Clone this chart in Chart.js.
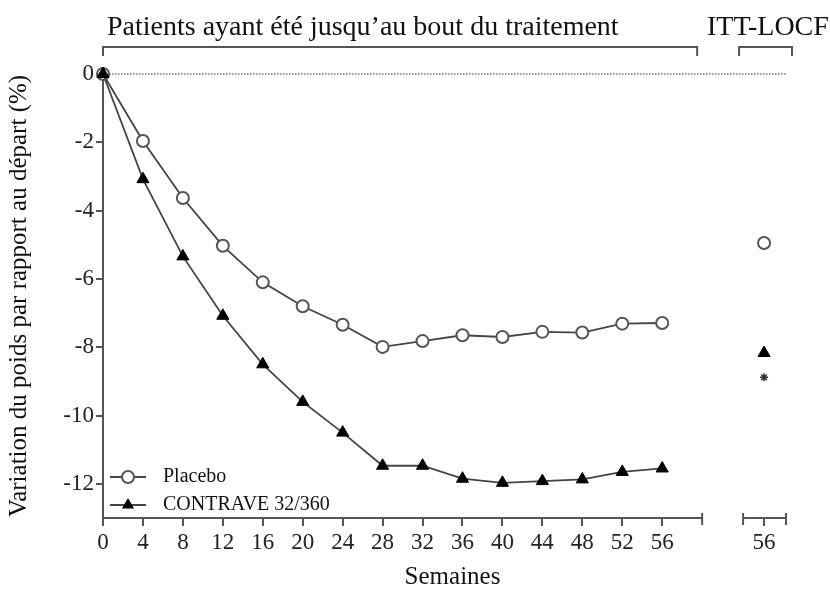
<!DOCTYPE html>
<html>
<head>
<meta charset="utf-8">
<script src="https://cdn.jsdelivr.net/npm/chart.js@4/dist/chart.umd.min.js"></script>
<style>
  body { margin: 0; background: #fff; }
  #wrap { width: 830px; height: 590px; position: relative; }
</style>
</head>
<body>
<div id="wrap"><canvas id="poidsChart"></canvas></div>
<script>
// semaines de suivi
var weeks = [0, 4, 8, 12, 16, 20, 24, 28, 32, 36, 40, 44, 48, 52, 56];
var placebo = [0, -1.96, -3.63, -5.03, -6.1, -6.8, -7.34, -7.99, -7.82, -7.65, -7.7, -7.55, -7.57, -7.31, -7.29];
var contrave = [0, -3.08, -5.34, -7.08, -8.5, -9.6, -10.5, -11.47, -11.47, -11.85, -11.97, -11.92, -11.87, -11.65, -11.55];

// ITT-LOCF, semaine 56 (placee a droite de la coupure)
var ittPos = 66.2;
var ittLabel = '56';
var placeboItt = [-4.95];
var contraveItt = [-8.17];
var starItt = [-8.88];

var yTicks = [0, -2, -4, -6, -8, -10, -12];

var serif = 'Liberation Serif';
var gris = '#555';

function pts(xs, ys) {
  return xs.map(function(x, i) { return { x: x, y: ys[i] }; });
}

// axes coupes, accolades, titres et legende
var decor = {
  id: 'decor',
  beforeDatasetsDraw: function(chart) {
    var ctx = chart.ctx, x = chart.scales.x, y = chart.scales.y;
    var y0 = y.getPixelForValue(0);
    ctx.save();
    ctx.strokeStyle = '#9a9a9a';
    ctx.lineWidth = 2;
    ctx.setLineDash([1.5, 1.5]);
    ctx.beginPath();
    ctx.moveTo(x.getPixelForValue(0), y0);
    ctx.lineTo(x.getPixelForValue(68.5), y0);
    ctx.stroke();
    ctx.restore();
  },
  afterDraw: function(chart) {
    var ctx = chart.ctx, x = chart.scales.x, a = chart.chartArea;
    var yb = a.bottom;
    ctx.save();
    ctx.strokeStyle = gris;
    ctx.lineWidth = 2;

    // axe x en deux morceaux
    var x60 = x.getPixelForValue(60);
    var i1 = x.getPixelForValue(64.1), i2 = x.getPixelForValue(68.4);
    ctx.beginPath();
    ctx.moveTo(a.left - 1, yb);
    ctx.lineTo(x60, yb);
    ctx.moveTo(x60, yb - 5);
    ctx.lineTo(x60, yb + 7);
    ctx.moveTo(i1, yb);
    ctx.lineTo(i2, yb);
    ctx.moveTo(i1, yb - 5);
    ctx.lineTo(i1, yb + 7);
    ctx.moveTo(i2, yb - 5);
    ctx.lineTo(i2, yb + 7);
    ctx.stroke();

    // accolades du haut
    var bt = 47, bb = 56;
    var b1 = x.getPixelForValue(0), b2 = x.getPixelForValue(59.5);
    var b3 = x.getPixelForValue(63.7), b4 = x.getPixelForValue(69);
    ctx.beginPath();
    ctx.moveTo(b1, bb); ctx.lineTo(b1, bt); ctx.lineTo(b2, bt); ctx.lineTo(b2, bb);
    ctx.moveTo(b3, bb); ctx.lineTo(b3, bt); ctx.lineTo(b4, bt); ctx.lineTo(b4, bb);
    ctx.stroke();

    ctx.fillStyle = '#111';
    ctx.font = '28px "' + serif + '"';
    ctx.textBaseline = 'alphabetic';
    ctx.textAlign = 'left';
    ctx.fillText('Patients ayant été jusqu\u2019au bout du traitement', b1 + 4, 35);
    ctx.fillText('ITT-LOCF', 707, 35);

    // legende
    var lx1 = 110, lx2 = 146, mx = 128, tx = 163;
    var ly = [477, 505];
    ctx.strokeStyle = '#444';
    ctx.lineWidth = 1.8;
    ctx.beginPath();
    ctx.moveTo(lx1, ly[0]); ctx.lineTo(lx2, ly[0]);
    ctx.moveTo(lx1, ly[1]); ctx.lineTo(lx2, ly[1]);
    ctx.stroke();
    ctx.fillStyle = '#fff';
    ctx.strokeStyle = gris;
    ctx.lineWidth = 2;
    ctx.beginPath();
    ctx.arc(mx, ly[0], 6, 0, Math.PI * 2);
    ctx.fill();
    ctx.stroke();
    ctx.fillStyle = '#000';
    ctx.beginPath();
    ctx.moveTo(mx, ly[1] - 7);
    ctx.lineTo(mx + 6.1, ly[1] + 3.5);
    ctx.lineTo(mx - 6.1, ly[1] + 3.5);
    ctx.closePath();
    ctx.fill();

    ctx.fillStyle = '#111';
    ctx.font = '20px "' + serif + '"';
    ctx.textBaseline = 'middle';
    ctx.fillText('Placebo', tx, ly[0]);
    ctx.fillText('CONTRAVE 32/360', tx, ly[1]);
    ctx.restore();
  }
};

var poidschart = document.getElementById('poidsChart');

let poidsChart = new Chart(poidschart, {
  type: 'scatter',
  data: {
    datasets: [
      {
        label: 'CONTRAVE 32/360',
        data: pts(weeks, contrave),
        showLine: true,
        borderColor: '#444',
        borderWidth: 1.8,
        pointStyle: 'triangle',
        pointRadius: 7,
        pointBackgroundColor: '#000',
        pointBorderColor: '#000',
        pointBorderWidth: 1,
        clip: false
      },
      {
        label: 'Placebo',
        data: pts(weeks, placebo),
        showLine: true,
        borderColor: '#444',
        borderWidth: 1.8,
        pointStyle: 'circle',
        pointRadius: 6,
        pointBackgroundColor: '#fff',
        pointBorderColor: gris,
        pointBorderWidth: 2,
        clip: false
      },
      {
        label: 'CONTRAVE ITT',
        data: pts([ittPos], contraveItt),
        pointStyle: 'triangle',
        pointRadius: 7,
        pointBackgroundColor: '#000',
        pointBorderColor: '#000',
        pointBorderWidth: 1
      },
      {
        label: 'Placebo ITT',
        data: pts([ittPos], placeboItt),
        pointStyle: 'circle',
        pointRadius: 6,
        pointBackgroundColor: '#fff',
        pointBorderColor: gris,
        pointBorderWidth: 2
      },
      {
        label: 'p',
        data: pts([ittPos], starItt),
        pointStyle: 'star',
        pointRadius: 4,
        pointBorderColor: '#333',
        pointBorderWidth: 1.5
      }
    ]
  },
  options: {
    responsive: true,
    maintainAspectRatio: false,
    animation: false,
    layout: { padding: { top: 74, right: 28, bottom: 0, left: 0 } },
    plugins: {
      legend: { display: false },
      tooltip: { enabled: false }
    },
    scales: {
      x: {
        type: 'linear',
        min: 0,
        max: 70,
        afterBuildTicks: function(s) {
          s.ticks = weeks.concat([ittPos]).map(function(v) { return { value: v }; });
        },
        afterFit: function(s) { s.height = 72; },
        ticks: {
          autoSkip: false,
          maxRotation: 0,
          padding: 3,
          color: '#222',
          font: { family: serif, size: 23 },
          callback: function(v) { return v === ittPos ? ittLabel : String(v); }
        },
        grid: { drawOnChartArea: false, tickLength: 8, color: gris, lineWidth: 2 },
        border: { display: false },
        title: {
          display: true,
          text: 'Semaines',
          color: '#111',
          font: { family: serif, size: 25 },
          padding: { top: 0, bottom: -2 }
        }
      },
      y: {
        min: -13,
        max: 0,
        afterBuildTicks: function(s) {
          s.ticks = yTicks.map(function(v) { return { value: v }; });
        },
        afterFit: function(s) { s.width = 103; },
        ticks: {
          padding: 2,
          color: '#222',
          font: { family: serif, size: 23 },
          callback: function(v) { return String(v); }
        },
        grid: { drawOnChartArea: false, tickLength: 7, color: gris, lineWidth: 2 },
        border: { display: true, color: gris, width: 2 },
        title: {
          display: true,
          text: 'Variation du poids par rapport au départ (%)',
          color: '#111',
          font: { family: serif, size: 25 },
          padding: { top: 4, bottom: 4 }
        }
      }
    }
  },
  plugins: [decor]
});
</script>
</body>
</html>
